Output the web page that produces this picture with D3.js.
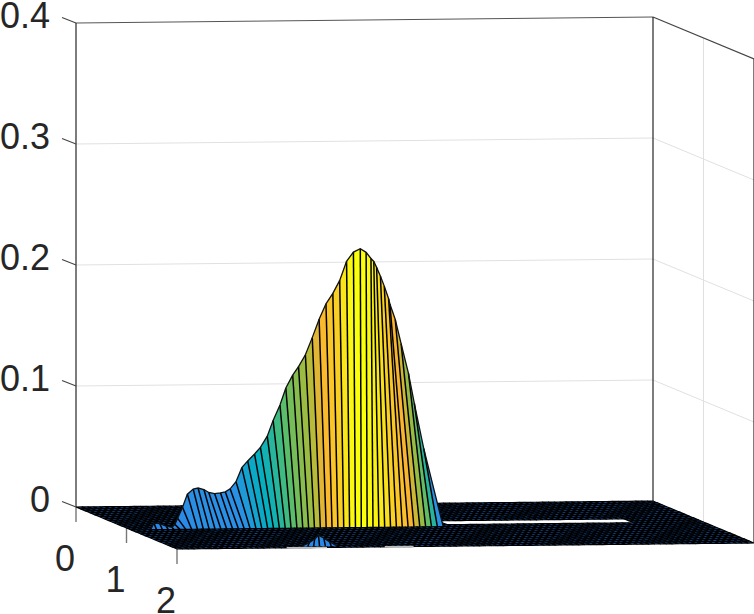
<!DOCTYPE html>
<html><head><meta charset="utf-8">
<script src="https://cdn.jsdelivr.net/npm/d3@7"></script>
<style>html,body{margin:0;padding:0;background:#fff;overflow:hidden}svg{display:block}text{font-family:"Liberation Sans",Arial,sans-serif;fill:#262626;font-size:36px}</style>
</head><body><svg id="c" width="754" height="614"></svg>
<script>
// ---- data ----
const zTicks = [0, 0.1, 0.2, 0.3, 0.4];
const zLabels = ["0", "0.1", "0.2", "0.3", "0.4"];
const vTicks = [0, 1, 2];
const vLabels = ["0", "1", "2"];
// main ridge: height per mesh column
const ridgeZ = [0,.0045,.004,.002,.001,.0024,.0063,.015,.0255,.0296,.0301,.0288,.026,.025,.0256,.026,.0281,.034,.0455,.051,.057,.0624,.072,.085,.098,.112,.123,.130,.140,.1545,.170,.183,.192,.203,.219,.227,.230,.227,.2215,.218,.212,.204,.195,.184,.178,.165,.145,.121,.096,.060,0];
// how far behind the ridge foot the crest of each column lies
const ridgeBack = [0,.05,.05,.04,.04,.10,.16,.18,.20,.20,.22,.22,.24,.24,.24,.26,.28,.28,.28,.28,.26,.26,.24,.24,.22,.22,.20,.20,.18,.16,.14,.12,.10,.08,.06,.04,.02,.02,.04,.10,.16,.20,.24,.27,.36,.37,.37,.34,.34,.27,0];
// small bump near the front edge
const bumpZ = [0,.0033,.0062,.0085,.0058,.0028,0];
const bumpBack = [0,-.03,-.02,.02,.03,.03,0];
const holeU = [.556,.875], holeV = [.86,.99];
const smudges = [[.19,.26],[.36,.41]];

const U0=.034, DU=.01014, VFOOT=1.09, VBUMP=1.93, UBUMP=.2227;
const floorFill="#17539f";
const heightStops=[0,.03,.06,.10,.14,.172,.20,.225];
const heightCols=["#2a86ea","#2a90e4","#05afc0","#4fbd70","#a5bc3c","#fbb430","#fad222","#fafa0f"];

// ---- scales ----
const color=d3.scaleLinear().domain(heightStops).range(heightCols);
const uX=d3.scaleLinear().domain([0,1]).range([0,577]);
const uY=d3.scaleLinear().domain([0,1]).range([0,-6]);
const vX=d3.scaleLinear().domain([0,2]).range([0,101]);
const vY=d3.scaleLinear().domain([0,2]).range([0,42]);
const zY=d3.scaleLinear().domain([0,.4]).range([0,-484]);
const P=(u,v,z=0)=>[76+uX(u)+vX(v),507+uY(u)+vY(v)+zY(z)];
const line=d3.line();
const svg=d3.select("#c");
const seg=(g,a,b,col,w)=>g.append("line").attr("x1",a[0]).attr("y1",a[1]).attr("x2",b[0]).attr("y2",b[1]).attr("stroke",col).attr("stroke-width",w);

// ---- box and grid ----
const box=svg.append("g");
zTicks.slice(1,4).forEach(z=>{seg(box,P(0,0,z),P(1,0,z),"#e0e0e0",1);seg(box,P(1,0,z),P(1,2,z),"#e0e0e0",1);});
seg(box,P(1,1,0),P(1,1,.4),"#e0e0e0",1);
seg(box,P(0,0,.4),P(1,0,.4),"#555",1);
seg(box,P(1,0,.4),P(1,2,.4),"#444",1.2);
seg(box,P(0,0,0),P(0,0,.4),"#262626",1.2);
seg(box,P(1,0,0),P(1,0,.4),"#262626",1.2);
seg(box,P(1,2,0),P(1,2,.4),"#262626",1.2);
zTicks.forEach(z=>{const p=P(0,0,z);seg(box,[p[0]-14,p[1]-5.5],p,"#444",1.1);});
vTicks.forEach(v=>{const p=P(0,v,0);seg(box,p,[p[0],p[1]+15],"#777",1.4);});

// ---- floor mesh ----
function floor(v0,v1,dv){
  const g=svg.append("g");
  const nu=Math.round(1/DU), nv=Math.round((v1-v0)/dv);
  for(let i=0;i<nu;i++)for(let j=0;j<nv;j++){
    const a=i/nu,b=(i+1)/nu,c=v0+j*(v1-v0)/nv,d=v0+(j+1)*(v1-v0)/nv;
    const mu=(a+b)/2,mv=(c+d)/2;
    if(mu>holeU[0]&&mu<holeU[1]&&mv>holeV[0]&&mv<holeV[1])continue;
    g.append("path").attr("d",line([P(a,c),P(b,c),P(b,d),P(a,d)])+"Z")
     .attr("fill",floorFill).attr("stroke","#000").attr("stroke-width",1.15);
  }
}
floor(0,VFOOT,.09);

// ---- ridge ----
function columns(zs,backs,u0,vFoot){
  const g=svg.append("g");
  const top=i=>P(u0+i*DU,vFoot-backs[i],zs[i]), foot=i=>P(u0+i*DU,vFoot,0);
  zs.forEach((z,i)=>{ if(i===zs.length-1)return;
    g.append("path").attr("d",line([top(i),top(i+1),foot(i+1),foot(i)])+"Z")
     .attr("fill",color((z+zs[i+1])/2)).attr("stroke","none");
  });
  zs.forEach((z,i)=>seg(g,top(i),foot(i),"#000",1.5));
  g.append("path").attr("d",line(zs.map((z,i)=>top(i)))).attr("fill","none").attr("stroke","#111").attr("stroke-width",1.3);
}
columns(ridgeZ,ridgeBack,U0,VFOOT);
floor(VFOOT,2,.09);
smudges.forEach(s=>seg(svg,P(s[0],2),P(s[1],2),"#bbb",1.6));
columns(bumpZ,bumpBack,UBUMP,VBUMP);

// ---- tick labels ----
const lab=svg.append("g");
zTicks.forEach((z,i)=>{const p=P(0,0,z);lab.append("text").attr("x",p[0]-26).attr("y",p[1]+5).attr("text-anchor","end").text(zLabels[i]);});
vTicks.forEach((v,i)=>{const p=P(0,v,0);lab.append("text").attr("x",p[0]-11).attr("y",p[1]+64).attr("text-anchor","middle").text(vLabels[i]);});
</script></body></html>
